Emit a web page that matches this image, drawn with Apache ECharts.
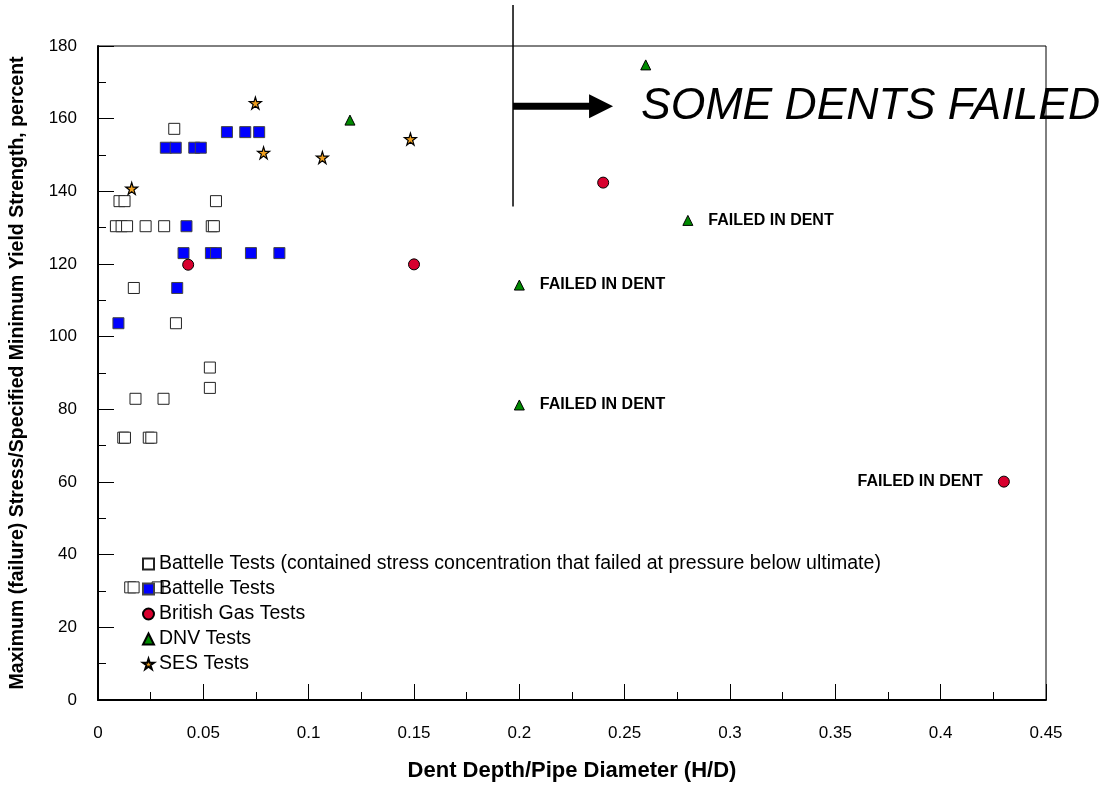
<!DOCTYPE html>
<html>
<head>
<meta charset="utf-8">
<script src="https://cdn.jsdelivr.net/npm/echarts@6/dist/echarts.min.js"></script>
<style>
html,body{margin:0;padding:0;background:#fff;}
#chart{width:1109px;height:787px;}
</style>
</head>
<body>
<div id="chart"></div>
<script>
// ---- data (x = H/D, y = percent SMYS) ----
const seriesNames = [
  'Battelle Tests (contained stress concentration that failed at pressure below ultimate)',
  'Battelle Tests',
  'British Gas Tests',
  'DNV Tests',
  'SES Tests'
];
const battelleContained = [
  [0.0362,157.2],
  [0.0102,137.3],[0.0126,137.3],[0.0560,137.3],
  [0.0085,130.4],[0.0112,130.4],[0.0138,130.4],[0.0226,130.4],[0.0314,130.4],[0.0540,130.4],[0.0550,130.4],
  [0.0170,113.4],
  [0.0370,103.7],
  [0.0531,91.5],[0.0531,85.9],
  [0.0178,82.9],[0.0311,82.9],
  [0.0120,72.2],[0.0128,72.2],[0.0241,72.2],[0.0253,72.2],
  [0.0153,31.0],[0.0169,31.0],[0.0283,31.0]
];
const battelle = [
  [0.0322,152.0],[0.0369,152.0],[0.0457,152.0],[0.0488,152.0],
  [0.0612,156.3],[0.0699,156.3],[0.0765,156.3],
  [0.0420,130.4],
  [0.0406,123.0],[0.0536,123.0],[0.0560,123.0],[0.0726,123.0],[0.0861,123.0],
  [0.0376,113.4],
  [0.0097,103.7]
];
const britishGas = [[0.0428,119.8],[0.1500,119.9],[0.2398,142.4],[0.4300,60.1]];
const dnv = [[0.2600,174.8],[0.1196,159.6],[0.2800,132.0],[0.2000,114.2],[0.2000,81.2]];
const ses = [[0.0747,164.3],[0.0786,150.6],[0.0160,140.8],[0.1065,149.3],[0.1483,154.4]];
const failedLabel = 'FAILED IN DENT';
const dnvFailed = [2,3,4];
const britishFailed = [3];
const xTicks = {min:0, max:0.45, interval:0.05};
const yTicks = {min:0, max:180, interval:20};
const xTitle = 'Dent Depth/Pipe Diameter (H/D)';
const yTitle = 'Maximum (failure) Stress/Specified Minimum Yield Strength, percent';
const noteText = 'SOME DENTS FAILED';
const noteLineX = 0.197, noteLineY = [135.8, 191.3];
const noteArrow = {y:163.4, x0:0.197, x1:0.2445, textX:0.2578};

const FONT = '"Liberation Sans", Arial, sans-serif';

function withLabels(data, idx, pos){
  return data.map((d,i)=> idx.includes(i) ? {
    value:d,
    label:{show:true, formatter:failedLabel, position:pos, distance:15,
      fontFamily:FONT, fontWeight:'bold', fontSize:16, color:'#000'}
  } : d);
}

const chart = echarts.init(document.getElementById('chart'), null, {renderer:'canvas'});
const axisCommon = {
  axisLine:{show:true, onZero:false, lineStyle:{color:'#000', width:2}},
  axisTick:{show:true, inside:true, length:16, lineStyle:{color:'#000', width:1}},
  minorTick:{show:true, splitNumber:2, length:8, lineStyle:{color:'#000', width:1}},
  splitLine:{show:false},
  axisLabel:{color:'#000', fontFamily:FONT, fontSize:17},
  nameTextStyle:{color:'#000', fontFamily:FONT, fontWeight:'bold'}
};
chart.setOption({
  animation:false,
  backgroundColor:'#fff',
  grid:{left:98, right:63, top:46, bottom:84, show:true, borderColor:'#000', borderWidth:1, containLabel:false},
  xAxis:Object.assign({}, axisCommon, {
    type:'value', min:xTicks.min, max:xTicks.max, interval:xTicks.interval,
    name:xTitle, nameLocation:'middle', nameGap:60,
    axisLabel:Object.assign({}, axisCommon.axisLabel, {margin:25}),
    nameTextStyle:Object.assign({}, axisCommon.nameTextStyle, {fontSize:22})
  }),
  yAxis:Object.assign({}, axisCommon, {
    type:'value', min:yTicks.min, max:yTicks.max, interval:yTicks.interval,
    name:yTitle, nameLocation:'middle', nameGap:70,
    axisLabel:Object.assign({}, axisCommon.axisLabel, {margin:21}),
    nameTextStyle:Object.assign({}, axisCommon.nameTextStyle, {fontSize:19.5})
  }),
  legend:{
    orient:'vertical', left:137, top:549, itemWidth:11, itemHeight:11, itemGap:5,
    textStyle:{color:'#000', fontFamily:FONT, fontSize:19.5},
    data:seriesNames
  },
  series:[
    {name:seriesNames[0], type:'scatter', symbol:'rect', symbolSize:11, data:battelleContained,
     itemStyle:{color:'#fff', borderColor:'#222', borderWidth:1, opacity:1}, z:2},
    {name:seriesNames[1], type:'scatter', symbol:'rect', symbolSize:11, data:battelle,
     itemStyle:{color:'#0000ff', borderColor:'#444', borderWidth:1, opacity:1}, z:3},
    {name:seriesNames[2], type:'scatter', symbol:'circle', symbolSize:11, data:withLabels(britishGas, britishFailed, 'left'),
     itemStyle:{color:'#d8002e', borderColor:'#000', borderWidth:1, opacity:1}, z:3},
    {name:seriesNames[3], type:'scatter', symbol:'triangle', symbolSize:10, data:withLabels(dnv, dnvFailed, 'right'),
     itemStyle:{color:'#008a00', borderColor:'#000', borderWidth:1, opacity:1}, z:3},
    {name:seriesNames[4], type:'scatter', symbol:'path://M50,0 L61,35 L98,35 L68,57 L79,91 L50,70 L21,91 L32,57 L2,35 L39,35 Z', symbolSize:12, data:ses,
     itemStyle:{color:'#f0a020', borderColor:'#000', borderWidth:1.2, opacity:1}, z:3}
  ]
});

function px(x,y){ return chart.convertToPixel({gridIndex:0},[x,y]); }
const lt = px(noteLineX, noteLineY[1]), lb = px(noteLineX, noteLineY[0]);
const a0 = px(noteArrow.x0, noteArrow.y), a1 = px(noteArrow.x1, noteArrow.y), tp = px(noteArrow.textX, noteArrow.y);
const headLen = 24, headHalf = 12;
chart.setOption({
  graphic:[
    {type:'line', shape:{x1:lt[0], y1:lt[1], x2:lb[0], y2:lb[1]}, style:{stroke:'#000', lineWidth:1.5}, z:10},
    {type:'line', shape:{x1:a0[0], y1:a0[1], x2:a1[0]-headLen+1, y2:a1[1]}, style:{stroke:'#000', lineWidth:7}, z:10},
    {type:'polygon', shape:{points:[[a1[0]-headLen,a1[1]-headHalf],[a1[0],a1[1]],[a1[0]-headLen,a1[1]+headHalf]]}, style:{fill:'#000'}, z:10},
    {type:'text', x:tp[0], y:tp[1], style:{text:noteText, fill:'#000', font:'italic 44.5px "Liberation Sans", Arial, sans-serif', textAlign:'left', textVerticalAlign:'middle'}, z:10}
  ]
});
</script>
</body>
</html>
